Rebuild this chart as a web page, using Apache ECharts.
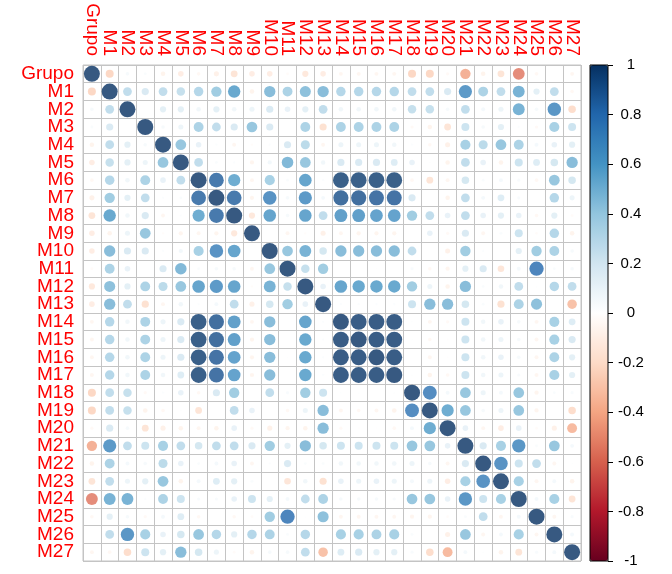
<!DOCTYPE html>
<html>
<head>
<meta charset="utf-8">
<script src="https://cdn.jsdelivr.net/npm/echarts@6/dist/echarts.min.js"></script>
<style>html,body{margin:0;padding:0;background:#fff}#c{width:672px;height:574px}</style>
</head>
<body>
<div id="c"></div>
<script>
// Variable names (row/column order)
const labels = ['Grupo','M1','M2','M3','M4','M5','M6','M7','M8','M9','M10','M11','M12','M13','M14','M15','M16','M17','M18','M19','M20','M21','M22','M23','M24','M25','M26','M27'];
// Upper-triangle correlations: row i holds columns i+1 .. 27
const rGrupo = [-0.25,0.05,0.03,-0.08,-0.12,-0.05,-0.1,-0.18,-0.12,-0.12,-0.03,-0.15,-0.12,-0.06,-0.06,-0.06,-0.06,-0.25,-0.25,-0.04,-0.42,-0.08,-0.18,-0.55,-0.05,0,-0.06];
const rM1 = [0.3,0.2,0.3,0.28,0.35,0.42,0.6,-0.08,0.5,0.38,0.48,0.5,0.35,0.35,0.35,0.35,0.3,0.3,0.2,0.68,0.38,0.3,0.55,0.15,0.3,-0.05];
const rM2 = [0,0.15,0.15,0.08,0.15,0.08,0.1,0.2,0.12,0.15,0.3,0.08,0.08,0.08,0.08,0.28,0.28,0.05,0.3,0.06,0.1,0.55,0.05,0.7,-0.22];
const rM3 = [0.05,0.1,0.38,0.3,0.2,0.45,0.2,0,0.38,-0.2,0.38,0.38,0.38,0.38,-0.04,-0.08,-0.18,0.25,0.05,0.15,0.02,-0.04,0.4,0.25];
const rM4 = [0.45,0.12,0.02,-0.06,-0.02,0.02,0.2,0.32,-0.06,0.1,0.1,0.1,0.08,0.02,-0.05,-0.1,0.4,0.32,0.45,0.38,0.06,0.12,0.15];
const rM5 = [0.3,0.03,0.02,-0.07,0.07,0.52,0.45,0.08,0.2,0.2,0.2,0.18,0.12,0.01,-0.08,0.3,0.12,-0.08,0.25,0.18,0.22,0.5];
const rM6 = [0.85,0.58,-0.06,0.4,0.03,0.62,0.02,0.97,0.97,0.97,0.97,-0.05,-0.18,-0.06,0.22,0.03,0.06,0.04,-0.05,0.45,0.22];
const rM7 = [0.85,-0.07,0.72,0.05,0.68,0.06,0.9,0.9,0.88,0.88,0.2,0,-0.08,0.3,0.06,0.18,0.04,0,0.35,0.1];
const rM8 = [-0.15,0.62,0.05,0.62,0.3,0.65,0.65,0.63,0.63,0.42,0.3,0.12,0.3,0.12,0.15,0.12,-0.05,0.15,-0.03];
const rM9 = [0,-0.06,-0.02,-0.1,-0.06,-0.07,-0.07,-0.07,0,0.12,-0.04,0.2,-0.06,0.03,0.25,-0.03,0.35,-0.08];
const rM10 = [0.45,0.55,0.22,0.5,0.5,0.5,0.5,0.3,0,-0.1,0.42,0.02,0,0.15,0.42,0.38,0.05];
const rM11 = [0.28,0.42,0,0,0.01,0,0.04,-0.05,-0.07,0.15,0.2,-0.17,0.06,0.8,0.03,0.05];
const rM12 = [0.12,0.62,0.6,0.6,0.6,0.42,0.1,-0.08,0.5,0.03,0.08,0.3,0.01,0.35,0.3];
const rM13 = [0.02,0.02,0.02,0.02,0.25,0.5,0.5,0.22,0.03,-0.2,0.38,0.48,0,-0.35];
const rM14 = [0.98,0.98,0.98,0.01,-0.06,-0.04,0.25,0.08,0.12,0.05,-0.06,0.4,0.18];
const rM15 = [0.98,0.98,0.01,-0.05,-0.01,0.25,0.08,0.1,0.05,-0.06,0.4,0.2];
const rM16 = [0.98,0,-0.06,-0.01,0.25,0.08,0.12,0.05,-0.06,0.38,0.15];
const rM17 = [0.01,-0.08,-0.05,0.25,0.08,0.1,0.04,-0.06,0.4,0.15];
const rM18 = [0.75,0.06,0.45,0.1,0.06,0.45,-0.07,0.03,0.04];
const rM19 = [0.58,0.45,0.05,0.1,0.45,-0.07,0,-0.22];
const rM20 = [0.12,-0.06,-0.12,0.12,-0.03,-0.1,-0.38];
const rM21 = [0.2,0.4,0.7,0.03,0.45,0.06];
const rM22 = [0.72,0.25,0.3,-0.06,0.01];
const rM23 = [0.4,-0.06,0.06,-0.08];
const rM24 = [0.06,0.4,-0.18];
const rM25 = [-0.06,0.04];
const rM26 = [0.06];
const upperRows = [rGrupo,rM1,rM2,rM3,rM4,rM5,rM6,rM7,rM8,rM9,rM10,rM11,rM12,rM13,rM14,rM15,rM16,rM17,rM18,rM19,rM20,rM21,rM22,rM23,rM24,rM25,rM26];
const palette = ['#67001F','#B2182B','#D6604D','#F4A582','#FDDBC7','#FFFFFF','#D1E5F0','#92C5DE','#4393C3','#2166AC','#053061'];

const n = labels.length;
const M = [];
for (let i = 0; i < n; i++) { M.push(new Array(n).fill(0)); M[i][i] = 1; }
upperRows.forEach((row, i) => row.forEach((v, k) => { const j = i + 1 + k; M[i][j] = v; M[j][i] = v; }));
const cells = [];
for (let i = 0; i < n; i++) for (let j = 0; j < n; j++) cells.push([j, i, M[i][j]]);

const cellW = 498 / n;
const chart = echarts.init(document.getElementById('c'), null, {renderer: 'canvas'});
const font = 'Liberation Sans, Arial, sans-serif';
chart.setOption({
  animation: false,
  backgroundColor: '#fff',
  grid: [
    {left: 83, top: 65, width: 498, height: 496, show: true, borderColor: '#C4C4C4', borderWidth: 1, backgroundColor: 'transparent'},
    {left: 590, top: 65, width: 18, height: 496, show: true, borderColor: '#000', borderWidth: 1, backgroundColor: 'transparent', z: 10}
  ],
  xAxis: [
    {gridIndex: 0, type: 'category', data: labels, position: 'top',
     axisLine: {show: false}, axisTick: {show: false},
     axisLabel: {rotate: 90, color: '#FF0000', fontSize: 19, fontFamily: font, margin: 9, interval: 0},
     splitLine: {show: true, interval: 0, lineStyle: {color: '#C4C4C4', width: 1}}},
    {gridIndex: 1, type: 'category', data: [''], show: false}
  ],
  yAxis: [
    {gridIndex: 0, type: 'category', data: labels, inverse: true,
     axisLine: {show: false}, axisTick: {show: false},
     axisLabel: {color: '#FF0000', fontSize: 19, fontFamily: font, margin: 9, interval: 0},
     splitLine: {show: true, interval: 0, lineStyle: {color: '#C4C4C4', width: 1}}},
    {gridIndex: 1, type: 'value', min: -1, max: 1, interval: 0.2, position: 'right',
     axisLine: {show: false},
     axisTick: {show: true, length: 5, lineStyle: {color: '#000'}},
     axisLabel: {color: '#000', fontSize: 15, fontFamily: font, align: 'center', margin: 23},
     splitLine: {show: false}}
  ],
  visualMap: {
    type: 'continuous', min: -1, max: 1, seriesIndex: 0, dimension: 2,
    inRange: {color: palette},
    orient: 'vertical', left: 590, top: 65, itemWidth: 18, itemHeight: 496,
    padding: 0, calculable: false, text: null, hoverLink: false
  },
  series: [
    {type: 'scatter', xAxisIndex: 0, yAxisIndex: 0, data: cells, symbol: 'circle',
     symbolSize: v => cellW * 0.9 * Math.sqrt(Math.abs(v[2])), z: 3},
    {type: 'scatter', xAxisIndex: 1, yAxisIndex: 1, data: []}
  ]
});
</script>
</body>
</html>
